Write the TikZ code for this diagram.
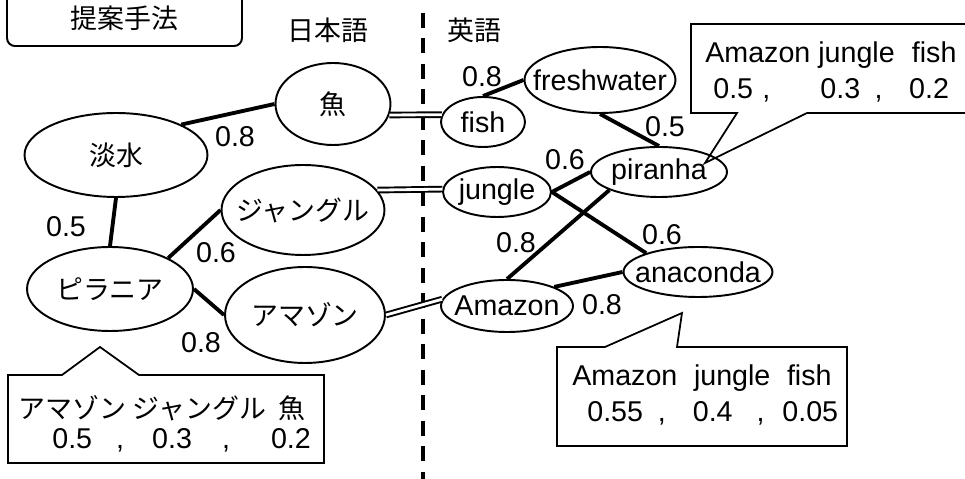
\documentclass[tikz,border=0pt]{standalone}
\usepackage{fontspec}
\setmainfont{Liberation Sans}
\newfontfamily\jp[Scale=0.94]{Noto Sans CJK JP}
\usetikzlibrary{shapes.geometric}
\tikzset{
  every node/.style={font=\fontsize{16.3}{19}\selectfont},
  word/.style={draw, ellipse, line width=1.1pt, inner sep=0pt},
  link/.style={line width=2.2pt},
  trans/.style={double, line width=1.1pt, double distance=1.6pt},
  weight/.style={inner sep=0pt},
  note/.style={inner sep=0pt, anchor=west},
  balloon/.style={line width=1pt, line join=miter},
  divider/.style={line width=2pt, dash pattern=on 8.5pt off 6pt},
}
% keep the ellipse size free of the text width
\newcommand{\nowidth}[1]{\makebox[0pt]{#1}}

\begin{document}
\begin{tikzpicture}[x=0.02cm, y=-0.02cm]
\useasboundingbox (0,0) rectangle (965,479);

% Title and language headings
\node[draw, line width=1.1pt, rounded corners=0.16cm, minimum width=4.7cm,
  inner ysep=0.3cm, anchor=south] (title) at (124.5,47) {\jp 提案手法};
\node (jaHead) at (328,30) {\jp 日本語};
\node (enHead) at (474,30) {\jp 英語};
\draw[divider] (423,13) -- (423,490);

% Japanese words
\node[word, minimum width=3.66cm, minimum height=1.68cm] (jFresh) at (116,155) {\nowidth{\jp 淡水}};
\node[word, minimum width=2.3cm, minimum height=1.64cm] (jFish) at (333,104) {\nowidth{\jp 魚}};
\node[word, minimum width=3.26cm, minimum height=1.8cm] (jJungle) at (303,210) {\nowidth{\jp ジャングル}};
\node[word, minimum width=3.32cm, minimum height=1.68cm] (jPiranha) at (110,289) {\nowidth{\jp ピラニア}};
\node[word, minimum width=3.2cm, minimum height=1.92cm] (jAmazon) at (305,315) {\nowidth{\jp アマゾン}};

% English words
\node[word, minimum width=1.68cm, minimum height=1cm] (eFish) at (483,122) {\nowidth{fish}};
\node[word, minimum width=3.02cm, minimum height=1.32cm] (eFresh) at (600,80) {\nowidth{freshwater}};
\node[word, minimum width=2.72cm, minimum height=1cm] (ePiranha) at (659,172) {\nowidth{piranha}};
\node[word, minimum width=2.16cm, minimum height=1cm] (eJungle) at (497,192) {\nowidth{jungle}};
\node[word, minimum width=2.64cm, minimum height=1.04cm] (eAmazon) at (507,306) {\nowidth{Amazon}};
\node[word, minimum width=2.98cm, minimum height=1cm] (eAnaconda) at (698,272) {\nowidth{anaconda}};

% Relations inside each language
\draw[link] (jFresh.25) -- (jFish.west);
\draw[link] (jFresh.south) -- (jPiranha.north);
\draw[link] (jPiranha.28) -- (jJungle.west);
\draw[link] (jPiranha.east) -- (jAmazon.west);
\draw[link] (eFish.north) -- (eFresh.west);
\draw[link] (eFresh.south) -- (ePiranha.north);
\draw[link] (eJungle.east) -- (ePiranha.west);
\draw[link] (eJungle.east) -- (eAnaconda.160);
\draw[link] (eAmazon.north) -- (ePiranha.200);
\draw[link] (eAmazon.22) -- (eAnaconda.west);

% Translations
\draw[trans] (jFish.-11) -- (eFish.170);
\draw[trans] (jJungle.15) -- (eJungle.177);
\draw[trans] (jAmazon.east) -- (eAmazon.174);

% Weights
\foreach \x/\y/\t [count=\i] in {235/137/0.8, 66/227/0.5, 216/253/0.6, 201/343/0.8,
    482/77/0.8, 665/127/0.5, 565/160/0.6, 662/235/0.6, 516/243/0.8, 602/305/0.8} {
  \node[weight] (w\i) at (\x,\y) {\t};
}

% Callouts
\draw[balloon] (691,24) -- (975,24) -- (975,113) -- (807,113) -- (705,163)
  -- (737,113) -- (691,113) -- cycle;
\node[note] (topA) at (705,55) {Amazon jungle\hspace{0.6em}fish};
\node[note] (topB) at (713,90) {0.5\hspace{0.32em},\hspace{1.75em}0.3\hspace{0.5em},\hspace{0.93em}0.2};

\draw[balloon] (8,375) -- (62,375) -- (100,347) -- (139,375) -- (324,375)
  -- (324,463) -- (8,463) -- cycle;
\node[note] (leftA) at (18,408) {\jp アマゾン\hspace{0.25em}ジャングル\hspace{0.45em}魚};
\node[note] (leftB) at (52,440) {0.5\hspace{0.84em},\hspace{0.98em}0.3\hspace{1.05em},\hspace{1.43em}0.2};

\draw[balloon] (557,347) -- (605,347) -- (682,313) -- (677,347) -- (847,347)
  -- (847,446) -- (557,446) -- cycle;
\node[note] (rightA) at (572,378) {Amazon\hspace{0.58em}jungle\hspace{0.58em}fish};
\node[note] (rightB) at (587,413) {0.55\hspace{0.52em},\hspace{0.94em}0.4\hspace{0.84em},\hspace{0.62em}0.05};

\end{tikzpicture}
\end{document}
